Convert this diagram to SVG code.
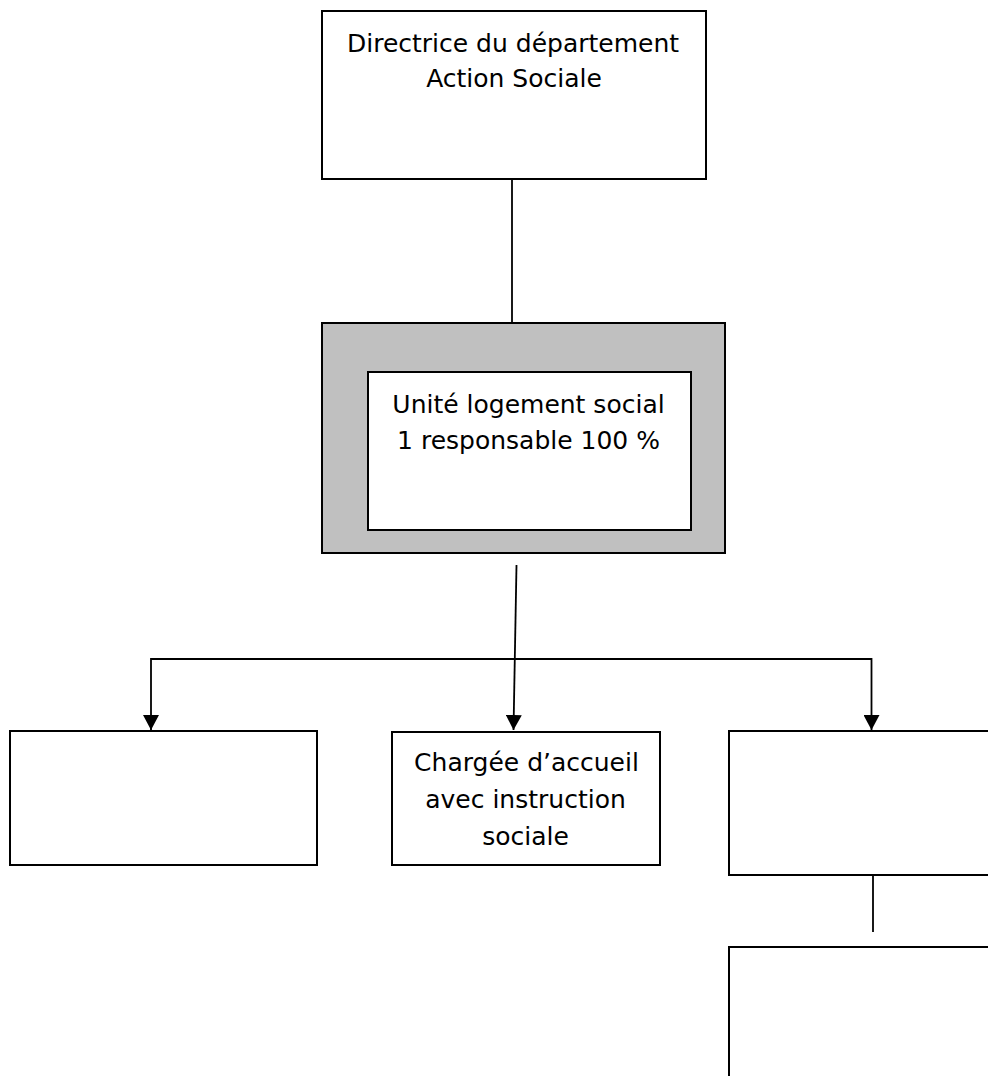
<svg xmlns="http://www.w3.org/2000/svg" width="988" height="1076" viewBox="0 0 988 1076">
<defs>
<style>
.box{fill:#ffffff;stroke:#000000;stroke-width:2}
.gray{fill:#c0c0c0;stroke:#000000;stroke-width:2}
.conn{fill:none;stroke:#000000;stroke-width:1.8}
.t{font-family:"DejaVu Sans","Liberation Sans",sans-serif;font-size:25px;fill:#000000;text-anchor:middle}
</style>
<marker id="arr" viewBox="0 0 15 16" refX="15" refY="8" markerWidth="15" markerHeight="16" markerUnits="userSpaceOnUse" orient="auto">
<path d="M0,0 L15,8 L0,16 z" fill="#000000"/>
</marker>
</defs>
<rect width="988" height="1076" fill="#ffffff"/>
<g id="connectors">
<line class="conn" x1="512" y1="179" x2="512" y2="323"/>
<line class="conn" x1="516.5" y1="565" x2="513.5" y2="730" marker-end="url(#arr)"/>
<path class="conn" d="M514.5 659 H151 V730" marker-end="url(#arr)"/>
<path class="conn" d="M514.5 659 H871.5 V730" marker-end="url(#arr)"/>
<line class="conn" x1="873" y1="875" x2="873" y2="932"/>
</g>
<g id="node-directrice">
<rect class="box" x="322" y="11" width="384" height="168"/>
<text class="t" x="513" y="52">Directrice du département</text>
<text class="t" x="514" y="87">Action Sociale</text>
</g>
<g id="node-unite">
<rect class="gray" x="322" y="323" width="403" height="230"/>
<rect class="box" x="368" y="372" width="323" height="158"/>
<text class="t" x="528.5" y="413">Unité logement social</text>
<text class="t" x="528.5" y="449">1 responsable 100 %</text>
</g>
<g id="node-left">
<rect class="box" x="10" y="731" width="307" height="134"/>
</g>
<g id="node-chargee">
<rect class="box" x="392" y="732" width="268" height="133"/>
<text class="t" x="526.5" y="771">Chargée d’accueil</text>
<text class="t" x="525.5" y="808">avec instruction</text>
<text class="t" x="525.5" y="845">sociale</text>
</g>
<g id="node-right">
<rect class="box" x="729" y="731" width="300" height="144"/>
</g>
<g id="node-bottom">
<rect class="box" x="729" y="947" width="300" height="160"/>
</g>
</svg>
